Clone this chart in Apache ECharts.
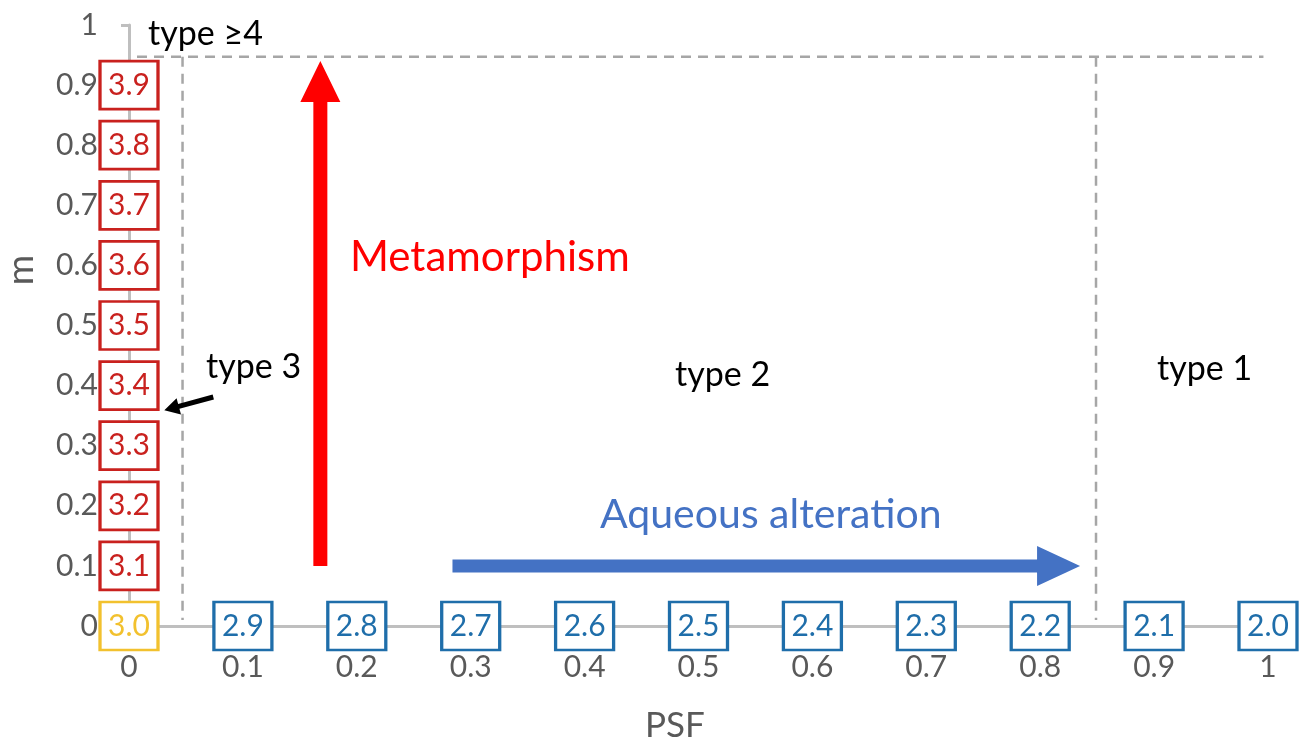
<!DOCTYPE html>
<html>
<head>
<meta charset="utf-8">
<script src="https://cdn.jsdelivr.net/npm/echarts@6/dist/echarts.min.js"></script>
<style>
html,body{margin:0;padding:0;background:#fff;}
#chart{width:1310px;height:742px;}
</style>
</head>
<body>
<div id="chart"></div>
<script>
// ---- data ----
const xTicks = [0,0.1,0.2,0.3,0.4,0.5,0.6,0.7,0.8,0.9,1];
const yTicks = [0,0.1,0.2,0.3,0.4,0.5,0.6,0.7,0.8,0.9,1];
// type 3 subtypes along m axis (PSF = 0)
const redPSF = [0,0,0,0,0,0,0,0,0];
const redM = [0.1,0.2,0.3,0.4,0.5,0.6,0.7,0.8,0.9];
const redLabels = ['3.1','3.2','3.3','3.4','3.5','3.6','3.7','3.8','3.9'];
// 3.0
const yellowPSF = [0];
const yellowM = [0];
const yellowLabels = ['3.0'];
// type 2 / 1 subtypes along PSF axis (m = 0)
const bluePSF = [0.1,0.2,0.3,0.4,0.5,0.6,0.7,0.8,0.9,1.0];
const blueM = [0,0,0,0,0,0,0,0,0,0];
const blueLabels = ['2.9','2.8','2.7','2.6','2.5','2.4','2.3','2.2','2.1','2.0'];
// boundaries (dashed)
const boundaryTop = [[0.007,0.947],[0.996,0.947]];
const boundaryType3 = [[0.047,0.947],[0.047,0.01]];
const boundaryType1 = [[0.849,0.947],[0.849,0.01]];
// arrows [x0,y0,x1,y1]
const metamorphismArrow = [[0.168,0.1,0.168,0.94]];
const aqueousArrow = [[0.284,0.1,0.835,0.1]];
const type3Pointer = [[0.074,0.381,0.031,0.359]];

const FONT = 'Lato';
const chart = echarts.init(document.getElementById('chart'));

function boxes(name, xs, ys, labels, color){
  return {
    name, type:'scatter', symbol:'rect', symbolSize:[58,48], z:5,
    data: xs.map((x,i)=>({value:[x, ys[i]], label:{formatter:labels[i]}})),
    itemStyle:{color:'#fff', borderColor:color, borderWidth:3, opacity:1},
    label:{show:true, position:'inside', color:color, fontSize:30, fontFamily:FONT},
    emphasis:{disabled:true}, silent:true
  };
}
function dashed(name, pts){
  return {
    name, type:'line', data:pts, symbol:'none', z:1, silent:true,
    lineStyle:{color:'#A6A6A6', width:2.5, type:[10,7]}
  };
}
function arrow(name, data, color, sw, hw, hl){
  return {
    name, type:'custom', data, z:4, silent:true,
    renderItem(params, api){
      const p0 = api.coord([api.value(0), api.value(1)]);
      const p1 = api.coord([api.value(2), api.value(3)]);
      const dx = p1[0]-p0[0], dy = p1[1]-p0[1];
      const L = Math.sqrt(dx*dx+dy*dy);
      const ux = dx/L, uy = dy/L, nx = -uy, ny = ux;
      const bx = p1[0]-ux*hl, by = p1[1]-uy*hl;
      const pts = [
        [p0[0]+nx*sw/2, p0[1]+ny*sw/2],
        [bx+nx*sw/2, by+ny*sw/2],
        [bx+nx*hw/2, by+ny*hw/2],
        [p1[0], p1[1]],
        [bx-nx*hw/2, by-ny*hw/2],
        [bx-nx*sw/2, by-ny*sw/2],
        [p0[0]-nx*sw/2, p0[1]-ny*sw/2]
      ];
      return {type:'polygon', shape:{points:pts}, style:{fill:color}};
    }
  };
}
function txt(text, left, y, size, color, extra){
  return Object.assign({
    type:'text', left:left, top:y - size*0.6,
    style:{text, fontSize:size, fontFamily:FONT, fill:color}
  }, extra||{});
}

const option = {
  animation:false,
  backgroundColor:'#fff',
  grid:{left:129, right:42, top:25, bottom:116, containLabel:false},
  xAxis:{
    type:'value', min:0, max:1, interval:0.1,
    axisLine:{show:true, lineStyle:{color:'#BFBFBF', width:3}},
    axisTick:{show:false}, splitLine:{show:false},
    axisLabel:{color:'#595959', fontSize:30, fontFamily:FONT, margin:26,
      formatter:v=>String(Math.round(v*10)/10)}
  },
  yAxis:{
    type:'value', min:0, max:1, interval:0.1,
    axisLine:{show:true, lineStyle:{color:'#BFBFBF', width:3}},
    axisTick:{show:true, length:8, lineStyle:{color:'#BFBFBF', width:3}},
    splitLine:{show:false},
    axisLabel:{color:'#595959', fontSize:30, fontFamily:FONT, margin:31,
      formatter:v=>String(Math.round(v*10)/10)}
  },
  series:[
    dashed('top', boundaryTop),
    dashed('b3', boundaryType3),
    dashed('b1', boundaryType1),
    arrow('metamorphism', metamorphismArrow, '#FF0000', 14, 40, 41),
    arrow('aqueous', aqueousArrow, '#4472C4', 13, 40, 43),
    arrow('pointer', type3Pointer, '#000000', 5, 17, 15),
    boxes('red', redPSF, redM, redLabels, '#C9211E'),
    boxes('yellow', yellowPSF, yellowM, yellowLabels, '#F2C12E'),
    boxes('blue', bluePSF, blueM, blueLabels, '#1F6EAA')
  ],
  graphic:[
    txt('type ≥4', 148, 37, 34, '#000'),
    txt('type 3', 206, 370, 34, '#000'),
    txt('type 2', 675, 378, 34, '#000'),
    txt('type 1', 1157, 372, 34, '#000'),
    txt('Metamorphism', 350, 262, 42, '#FF0000'),
    txt('Aqueous alteration', 600, 519, 41, '#4472C4'),
    {type:'text', x:675, y:726,
      style:{text:'PSF', fontSize:35, fontFamily:FONT, fill:'#595959', align:'center', verticalAlign:'middle'}},
    {type:'text', x:21, y:270, rotation:Math.PI/2,
      style:{text:'m', fontSize:37, fontFamily:FONT, fill:'#595959', align:'center', verticalAlign:'middle'}}
  ]
};
chart.setOption(option);
</script>
</body>
</html>
